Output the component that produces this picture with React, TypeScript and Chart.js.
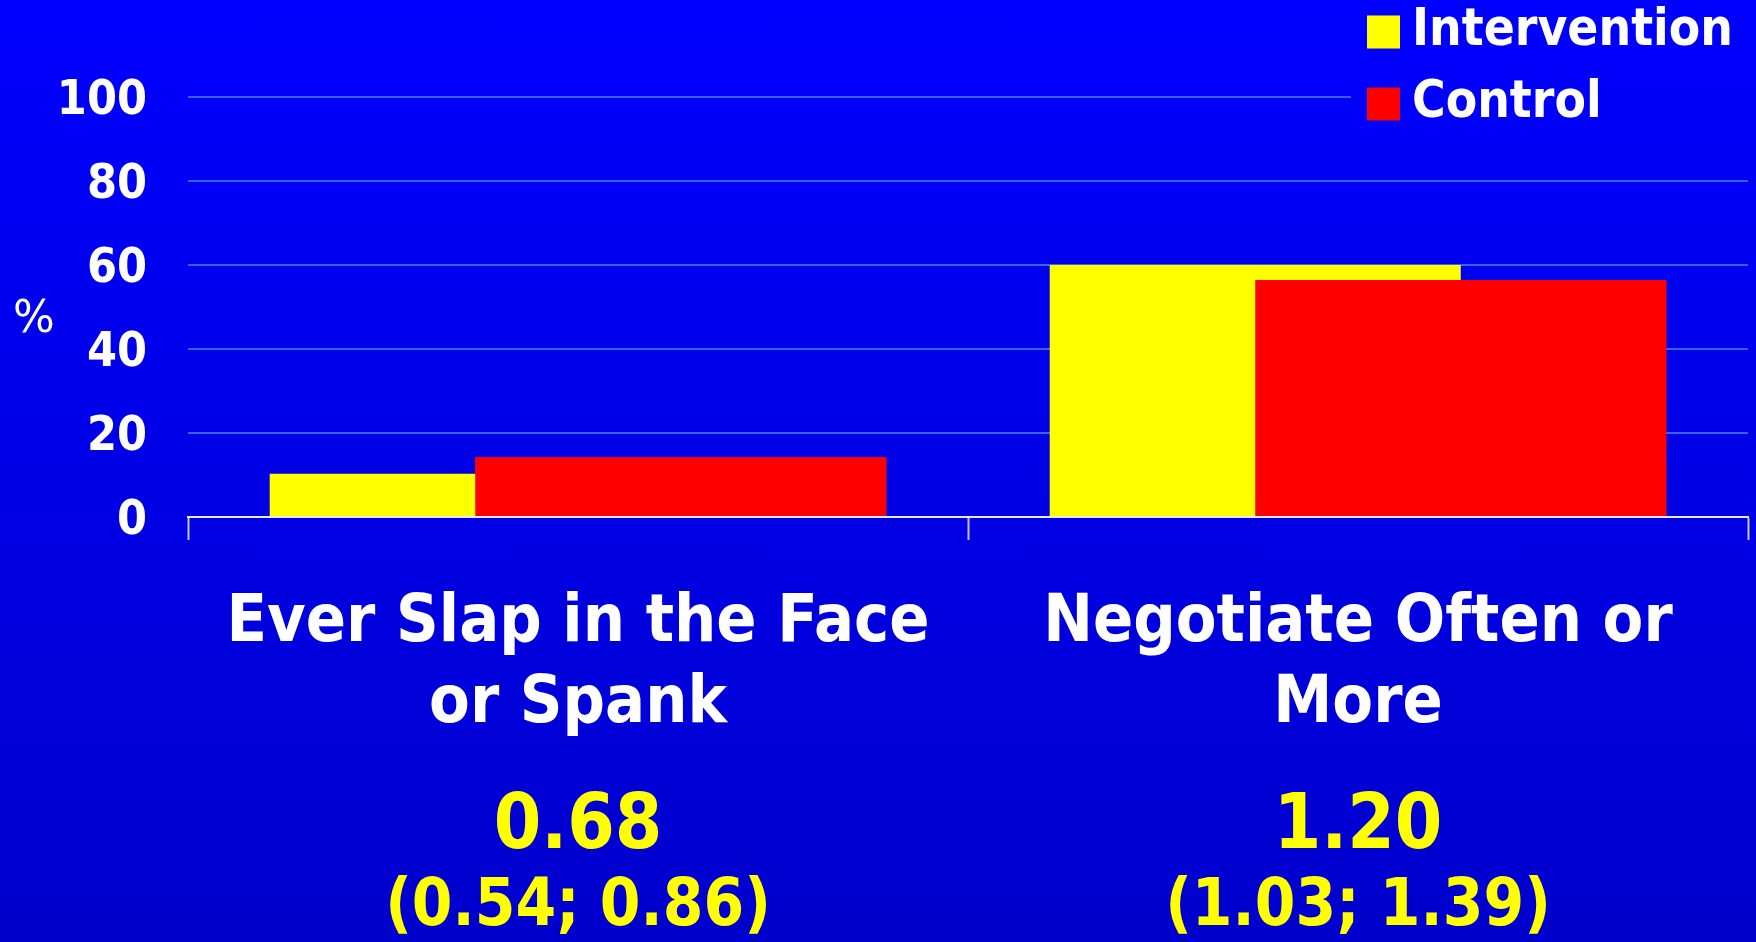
import React, { useEffect, useRef } from "react";
import { Chart, registerables } from "chart.js";

Chart.register(...registerables);

// ---- data ----
const categories = [
  ["Ever Slap in the Face", "or Spank"],
  ["Negotiate Often or", "More"],
];
const oddsRatios = ["0.68", "1.20"];
const confidenceIntervals = ["(0.54; 0.86)", "(1.03; 1.39)"];
const seriesNames = ["Intervention", "Control"];
const interventionValues = [10.3, 60];
const controlValues = [14.2, 56.4];
const yTickValues = [0, 20, 40, 60, 80, 100];
const yAxisLabel = "%";

// ---- styles ----
const FONT = "'DejaVu Sans Condensed', 'DejaVu Sans', sans-serif";
const WHITE = "#ffffff";
const YELLOW = "#ffff00";
const RED = "#ff0000";

const overlayPlugin = {
  id: "overlay",
  afterLayout(chart: any) {
    const lg = chart.legend;
    if (!lg) return;
    const right = chart.chartArea.right;
    lg.left = right - 388.5;
    lg.right = right;
    lg.top = -14.5;
    lg.bottom = lg.top + 400;
  },
  afterDatasetsDraw(chart: any) {
    // control bars sit in front of the intervention bars
    const meta = chart.getDatasetMeta(1);
    meta.data.forEach((el: any) => el.draw(chart.ctx));
  },
  afterDraw(chart: any) {
    const { ctx, chartArea, legend } = chart;
    const x0 = chartArea.right - 397;
    ctx.clearRect(x0, 0, chartArea.right - x0 + 1, 125);
    legend.draw();
    ctx.save();
    ctx.fillStyle = WHITE;
    ctx.font = `44px 'DejaVu Sans', sans-serif`;
    ctx.textAlign = "left";
    ctx.textBaseline = "alphabetic";
    ctx.fillText(yAxisLabel, 13, 332);
    ctx.restore();
  },
};

export default function App() {
  const canvasRef = useRef<HTMLCanvasElement | null>(null);

  useEffect(() => {
    const canvas = canvasRef.current;
    if (!canvas) return;
    const chart = new Chart(canvas, {
      type: "bar",
      data: {
        labels: categories as any,
        datasets: [
          {
            label: seriesNames[0],
            data: interventionValues,
            backgroundColor: YELLOW,
            borderWidth: 0,
            categoryPercentage: 0.527,
            barPercentage: 2,
          },
          {
            label: seriesNames[1],
            data: controlValues,
            backgroundColor: RED,
            borderWidth: 0,
            categoryPercentage: 0.527,
            barPercentage: 2,
          },
        ],
      },
      options: {
        responsive: false,
        animation: false,
        events: [],
        layout: { padding: { top: 97, right: 8, bottom: 0, left: 0 } },
        plugins: {
          tooltip: { enabled: false },
          legend: {
            display: true,
            position: "chartArea",
            align: "start",
            labels: {
              color: WHITE,
              font: { family: FONT, size: 51, weight: "bold" },
              usePointStyle: true,
              pointStyle: "rect",
              boxWidth: 6,
              boxHeight: 33,
              padding: 21,
            },
          },
        },
        scales: {
          x: {
            type: "category",
            position: "bottom",
            weight: 0,
            offset: true,
            grid: {
              display: true,
              drawOnChartArea: false,
              drawTicks: true,
              offset: true,
              tickLength: 23,
              tickWidth: 2,
              tickColor: "#c4c4ec",
            },
            border: { display: true, color: "#e8e8ff", width: 2 },
            ticks: {
              color: WHITE,
              font: { family: FONT, size: 66, weight: "bold", lineHeight: 1.227 },
              padding: 43,
              autoSkip: false,
              maxRotation: 0,
              minRotation: 0,
            },
            afterFit: (s: any) => {
              s.height = 250;
            },
          },
          x2: {
            type: "category",
            position: "bottom",
            weight: 1,
            offset: true,
            labels: oddsRatios,
            grid: { display: false, drawTicks: false },
            border: { display: false },
            ticks: {
              color: YELLOW,
              font: { family: FONT, size: 76, weight: "bold", lineHeight: 1.2 },
              padding: 16,
              autoSkip: false,
              maxRotation: 0,
              minRotation: 0,
            },
            afterFit: (s: any) => {
              s.height = 90;
            },
          },
          x3: {
            type: "category",
            position: "bottom",
            weight: 2,
            offset: true,
            labels: confidenceIntervals,
            grid: { display: false, drawTicks: false },
            border: { display: false },
            ticks: {
              color: YELLOW,
              font: { family: FONT, size: 65, weight: "bold", lineHeight: 1.2 },
              padding: 12,
              autoSkip: false,
              maxRotation: 0,
              minRotation: 0,
            },
            afterFit: (s: any) => {
              s.height = 85;
            },
          },
          y: {
            type: "linear",
            min: yTickValues[0],
            max: yTickValues[yTickValues.length - 1],
            afterBuildTicks: (s: any) => {
              s.ticks = yTickValues.map((v) => ({ value: v }));
            },
            grid: {
              color: "#3366ff",
              lineWidth: 2,
              drawTicks: false,
            },
            border: { display: false },
            ticks: {
              color: WHITE,
              font: { family: FONT, size: 48, weight: "bold" },
              padding: 41,
              labelOffset: 5,
            },
            afterFit: (s: any) => {
              s.width = 188;
            },
          },
        },
      } as any,
      plugins: [overlayPlugin],
    });
    return () => chart.destroy();
  }, []);

  return (
    <div
      style={{
        position: "fixed",
        left: 0,
        top: 0,
        width: 1756,
        height: 942,
        background: "linear-gradient(#0000ff, #0000cc)",
      }}
    >
      <canvas ref={canvasRef} width={1756} height={942} style={{ display: "block" }} />
    </div>
  );
}
